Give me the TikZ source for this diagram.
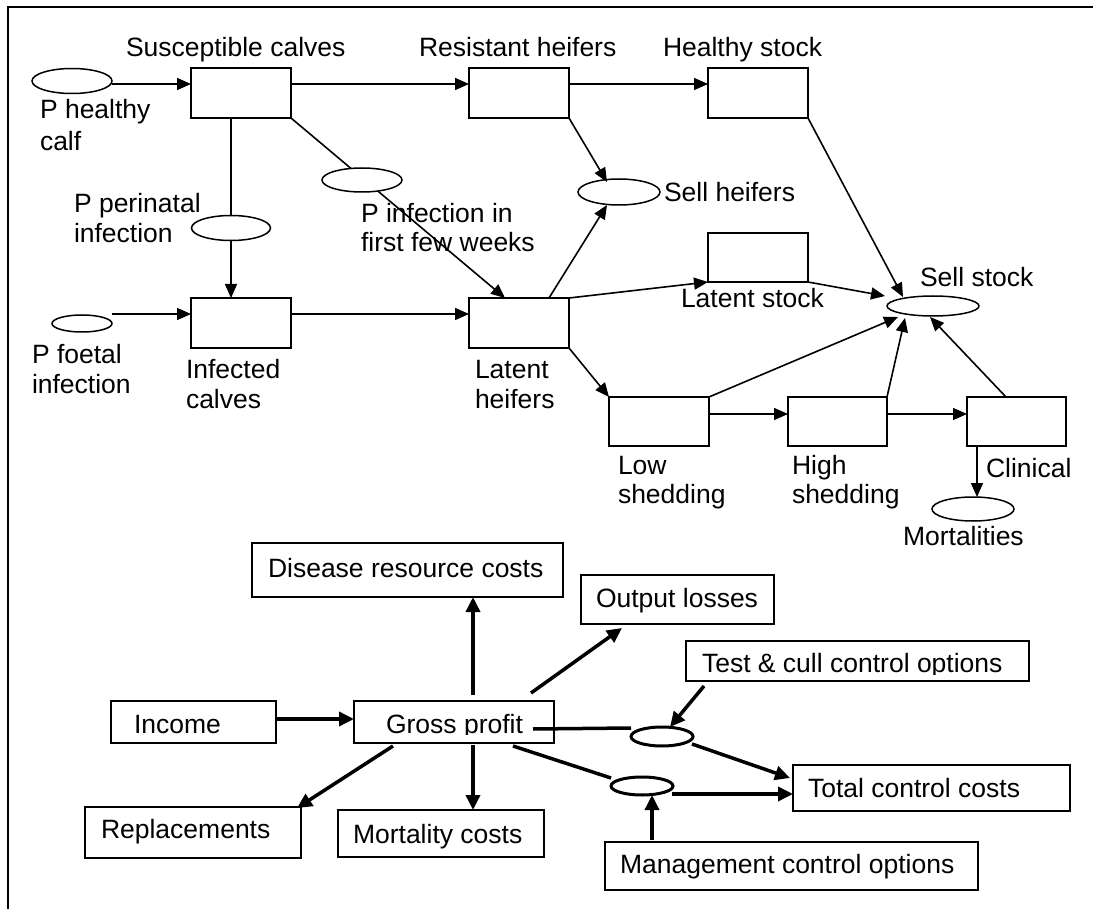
\documentclass[tikz,border=0pt]{standalone}
\usepackage{fontspec}
\setmainfont{Liberation Sans}
\usetikzlibrary{calc,shapes.geometric,arrows.meta}

\begin{document}
\begin{tikzpicture}[x=1pt,y=-1pt,
  every node/.style={inner sep=0pt, outer sep=0pt},
  txt/.style={anchor=base west, font=\fontsize{26.5}{30}\selectfont},
  stock/.style={draw, line width=1.8pt, minimum width=100pt, minimum height=50pt},
  prob/.style={draw, ellipse, line width=1.5pt, fill=white},
  flow/.style={line width=1.6pt, -{Triangle[length=14pt,width=12pt]}},
  link/.style={line width=1.6pt},
  cbox/.style={draw, line width=2pt, anchor=north west},
  cflow/.style={line width=3.5pt, -{Triangle[length=15pt,width=14pt]}},
  clink/.style={line width=3.5pt},
  copt/.style={draw, ellipse, line width=3pt, fill=white},
]
\useasboundingbox (0,0) rectangle (1093,909);

% frame
\draw[line width=2.5pt] (1093,7) -- (8,7) -- (8,909);

% ---------------- herd flow model ----------------
\node[stock] (sc) at (241,93) {};
\node[stock] (rh) at (519,93) {};
\node[stock] (hs) at (758,93) {};
\node[stock] (ic) at (241,323) {};
\node[stock] (lh) at (519,323) {};
\node[stock, minimum height=49pt] (ls) at (758,257.5) {};
\node[stock, minimum height=49pt] (low) at (659,421.5) {};
\node[stock, minimum height=49pt, minimum width=99pt] (high) at (837.5,421.5) {};
\node[stock, minimum height=49pt, minimum width=99pt] (clin) at (1016.5,421.5) {};

\node[prob, minimum width=80pt, minimum height=25pt] (phc) at (72,81) {};
\node[prob, minimum width=79pt, minimum height=25pt] (pp) at (231,228) {};
\node[prob, minimum width=60pt, minimum height=17pt] (pf) at (82,323.5) {};
\node[prob, minimum width=82pt, minimum height=26pt] (sellh) at (619,192) {};
\node[prob, minimum width=92pt, minimum height=20pt] (sells) at (933,306) {};
\node[prob, minimum width=82pt, minimum height=24pt] (mort) at (973,509) {};

% flows
\draw[flow] ($(phc.east)+(0,3)$) -- ($(sc.west)+(0,-9)$);
\draw[flow] ($(sc.east)+(0,-9)$) -- ($(rh.west)+(0,-9)$);
\draw[flow] ($(rh.east)+(0,-9)$) -- ($(hs.west)+(0,-9)$);
\draw[flow] ($(pf.east)+(0,-9.5)$) -- ($(ic.west)+(0,-9)$);
\draw[flow] ($(ic.east)+(0,-9)$) -- ($(lh.west)+(0,-9)$);

\draw[link] (pp.north |- sc.south) -- (pp.north);
\draw[flow] (pp.south) -- (pp.south |- ic.north);

\coordinate (lhin) at ($(lh.north west)+(36,0)$);
\draw[flow] (sc.south east) -- (lhin);
\node[prob, minimum width=80pt, minimum height=24pt] (pi) at (362,180) {};

\draw[flow] (rh.south east) -- ($(sellh.center)+(-12,-10)$);
\draw[flow] ($(lh.north)+(30,0)$) -- ($(sellh.center)+(-12,13)$);
\draw[flow] (hs.south east) -- ($(sells.center)+(-30,-9)$);
\draw[flow] (lh.north east) -- (ls.south west);
\draw[flow] (ls.south east) -- ($(sells.center)+(-48,-10)$);
\draw[flow] (lh.south east) -- (low.north west);
\draw[flow] ($(low.east)+(0,-7.5)$) -- ($(high.west)+(0,-7.5)$);
\draw[flow] ($(high.east)+(0,-7.5)$) -- ($(clin.west)+(0,-7.5)$);
\draw[flow] (low.north east) -- ($(sells.center)+(-35,11)$);
\draw[flow] (high.north east) -- ($(sells.center)+(-28,12)$);
\draw[flow] ($(clin.north)+(-10.5,0)$) -- ($(sells.center)+(-3,11)$);
\coordinate (cm) at ($(clin.south west)+(10,0)$);
\draw[flow] (cm) -- (cm |- mort.north);

% labels
\node[txt] (t1) at (126,57) {Susceptible calves};
\node[txt] (t2) at (419,57) {Resistant heifers};
\node[txt] (t3) at (663,57) {Healthy stock};
\node[txt] (t4) at (40,119) {P healthy};
\node[txt] (t5) at (40,151) {calf};
\node[txt] (t6) at (74,213) {P perinatal};
\node[txt] (t7) at (74,243) {infection};
\node[txt] (t8) at (361,223) {P infection in};
\node[txt] (t9) at (361,252) {first few weeks};
\node[txt] (t10) at (664,202) {Sell heifers};
\node[txt] (t11) at (920,287) {Sell stock};
\node[txt] (t12) at (681,308) {Latent stock};
\node[txt] (t13) at (32,363) {P foetal};
\node[txt] (t14) at (32,393) {infection};
\node[txt] (t15) at (186,379) {Infected};
\node[txt] (t16) at (186,409) {calves};
\node[txt] (t17) at (475,379) {Latent};
\node[txt] (t18) at (475,409) {heifers};
\node[txt] (t19) at (618,474) {Low};
\node[txt] (t20) at (618,503) {shedding};
\node[txt] (t21) at (792,474) {High};
\node[txt] (t22) at (792,503) {shedding};
\node[txt] (t23) at (986,477) {Clinical};
\node[txt] (t24) at (903,545) {Mortalities};

% ---------------- economic model ----------------
\node[cbox, minimum width=311pt, minimum height=54pt] (disease) at (252,543) {};
\node[cbox, minimum width=193pt, minimum height=49pt] (output) at (581,575) {};
\node[cbox, minimum width=343pt, minimum height=40pt] (test) at (686,641) {};
\node[cbox, minimum width=165pt, minimum height=42pt] (income) at (111,701) {};
\node[cbox, minimum width=200pt, minimum height=42pt] (gp) at (354,701) {};
\node[cbox, minimum width=216pt, minimum height=51pt] (repl) at (85,807) {};
\node[cbox, minimum width=206pt, minimum height=47pt] (mortc) at (338,810) {};
\node[cbox, minimum width=277pt, minimum height=46pt] (total) at (793,765) {};
\node[cbox, minimum width=373pt, minimum height=48pt] (mgmt) at (605,842) {};

\node[copt, minimum width=62pt, minimum height=19pt] (e1) at (662,736.5) {};
\node[copt, minimum width=62pt, minimum height=18pt] (e2) at (642,786) {};

\node[txt] (b1) at (268,577) {Disease resource costs};
\node[txt] (b2) at (596,607) {Output losses};
\begin{scope}
  \clip (test.north west) rectangle ($(test.south east)+(0,-7)$);
  \node[txt] (b3) at (702,672) {Test \& cull control options};
\end{scope}
\node[txt] (b4) at (134,733) {Income};
\begin{scope}
  \clip (gp.north west) rectangle ($(gp.south east)+(0,-9)$);
  \node[txt] (b5) at (386,733) {Gross profit};
\end{scope}
\node[txt] (b6) at (101,838) {Replacements};
\node[txt] (b7) at (353,843) {Mortality costs};
\node[txt] (b8) at (808,797) {Total control costs};
\node[txt] (b9) at (620,873) {Management control options};

\draw[cflow] ($(income.east)+(0,-3)$) -- ($(gp.west)+(0,-3)$);
\coordinate (gu) at ($(gp.north)+(19,-6)$);
\draw[cflow] (gu) -- (gu |- disease.south);
\coordinate (gd) at ($(gp.south)+(19,2)$);
\draw[cflow] (gd) -- (gd |- mortc.north);
\draw[cflow] ($(gp.north east)+(-23,-8)$) -- ($(output.south west)+(41,4)$);
\draw[cflow] ($(gp.south west)+(39,3)$) -- ($(repl.north east)+(-4,1)$);
\draw[clink] ($(gp.east)+(-21,7)$) -- ($(e1.center)+(-31,-8.5)$);
\draw[clink] ($(gp.south east)+(-41,3)$) -- ($(e2.center)+(-31,-8)$);
\draw[cflow] ($(test.south west)+(18,5)$) -- ($(e1.north)+(8,0)$);
\draw[cflow] ($(e1.center)+(30,7.5)$) -- ($(total.west)+(-3,-10)$);
\draw[cflow] ($(e2.center)+(30,8)$) -- ($(total.west)+(0,6)$);
\coordinate (mu) at ($(mgmt.north west)+(47,-2)$);
\draw[cflow] (mu) -- (mu |- e2.south);
\end{tikzpicture}
\end{document}
